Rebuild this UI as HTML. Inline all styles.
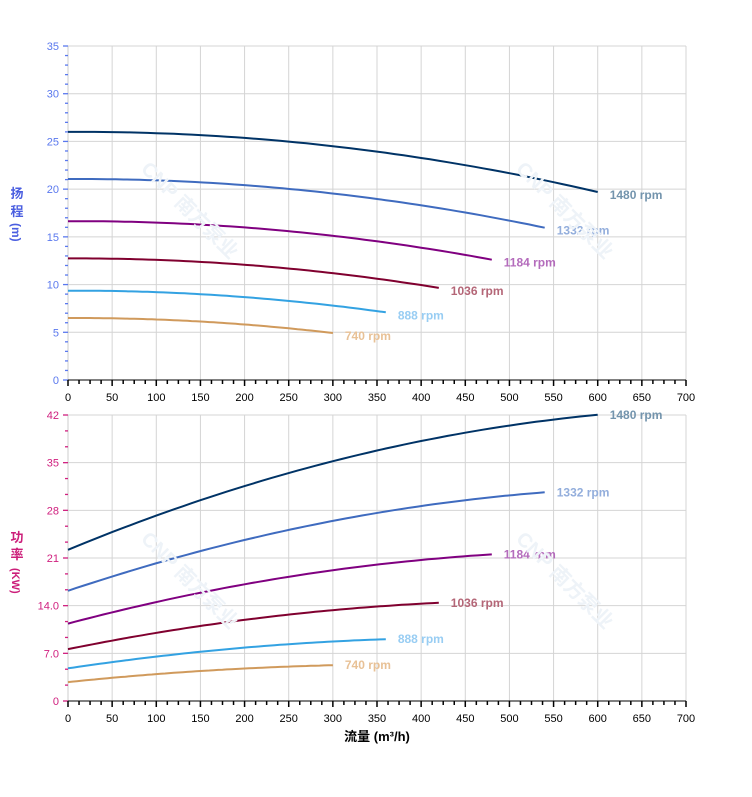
<!DOCTYPE html>
<html><head><meta charset="utf-8"><style>
body{margin:0;background:#fff;}
svg{display:block;font-family:"Liberation Sans","Noto Sans CJK SC",sans-serif;}
</style></head><body>
<svg id="s" width="752" height="797" xmlns="http://www.w3.org/2000/svg"></svg>
<script>
const s=document.getElementById('s');
let h='';
const X0=68,X1=686,xs=(X1-X0)/700;
const X=q=>X0+q*xs;
function panel(top,bot,ymax,ystep,minor,col,fmt){
  const ys=(bot-top)/ymax, Y=v=>bot-v*ys;
  for(let q=50;q<=700;q+=50) h+=`<line x1="${X(q)}" y1="${top}" x2="${X(q)}" y2="${bot}" stroke="#d4d4d4" stroke-width="1"/>`;
  const nmaj=Math.round(ymax/ystep);
  for(let i=1;i<=nmaj;i++){const v=i*ystep;h+=`<line x1="${X0}" y1="${Y(v)}" x2="${X1}" y2="${Y(v)}" stroke="#d4d4d4" stroke-width="1"/>`;}
  h+=`<line x1="${X0}" y1="${top}" x2="${X0}" y2="${bot}" stroke="#ccc"/>`;
  h+=`<line x1="${X0}" y1="${bot}" x2="${X1}" y2="${bot}" stroke="#000" stroke-width="1"/>`;
  for(let j=0;j<=nmaj*minor;j++){
    const maj=j%minor==0; const v=j*ystep/minor;
    h+=`<line x1="${maj?X0-5:X0-3}" y1="${Y(v)}" x2="${X0}" y2="${Y(v)}" stroke="${col}" stroke-width="1.3"/>`;
    if(maj) h+=`<text x="${X0-9}" y="${Y(v)+4}" font-size="11" fill="${col}" text-anchor="end">${fmt(j/minor)}</text>`;
  }
  for(let k=0;k<=56;k++){
    const q=k*12.5, maj=k%4==0;
    h+=`<line x1="${X(q)}" y1="${bot}" x2="${X(q)}" y2="${bot+(maj?6:4)}" stroke="#000" stroke-width="1.5"/>`;
    if(maj) h+=`<text x="${X(q)}" y="${bot+21}" font-size="11" fill="#000" text-anchor="middle">${q}</text>`;
  }
  return Y;
}
const cols=['#003366','#3f6bbf','#800080','#80002f','#33a2e2','#d09a5c'];
const lcols=['#7394ad','#93aedc','#b46cbc','#b46677','#98cdf3','#e8c196'];
const rs=[1,0.9,0.8,0.7,0.6,0.5],names=['1480','1332','1184','1036','888','740'];
const H=q=>26+0.0005*q-1.833e-5*q*q;
const P=q=>22.2+0.0537*q-3.44e-5*q*q;
const Yt=panel(46,380,35,5,5,'#5a78ee',i=>i*5);
const blab=['0','7.0','14.0','21','28','35','42'];
const Yb=panel(415,701,42,7,3,'#d0207f',i=>blab[i]);
function curves(Y,f,pw,labOff){
  rs.forEach((r,i)=>{
    let d='';const qe=600*r;
    for(let k=0;k<=60;k++){const q=qe*k/60;const v=Math.pow(r,pw)*f(q/r);d+=(k?'L':'M')+X(q).toFixed(1)+','+Y(v).toFixed(1);}
    h+=`<path d="${d}" fill="none" stroke="${cols[i]}" stroke-width="2"/>`;
    const ve=Math.pow(r,pw)*f(600);
    h+=`<text x="${X(qe)+12}" y="${Y(ve)+labOff}" font-size="12" font-weight="bold" fill="${lcols[i]}">${names[i]} rpm</text>`;
  });
}
curves(Yt,H,2,7);
curves(Yb,P,3,4);
h+=`<g font-size="13" font-weight="bold" fill="#4a5ee0"><text x="17" y="198" text-anchor="middle">扬</text><text x="17" y="216" text-anchor="middle">程</text><text transform="translate(12,223) rotate(90)" font-size="12">(m)</text></g>`;
h+=`<g font-size="13" font-weight="bold" fill="#cc1f7a"><text x="17" y="542" text-anchor="middle">功</text><text x="17" y="559" text-anchor="middle">率</text><text transform="translate(12,568) rotate(90)" font-size="11">(KW)</text></g>`;
h+=`<text x="377" y="741" font-size="13" font-weight="bold" fill="#000" text-anchor="middle">流量 (m³/h)</text>`;
[[185,215],[560,215],[185,585],[560,585]].forEach(p=>{h+=`<text transform="translate(${p[0]},${p[1]}) rotate(45)" font-size="20" font-weight="bold" fill="#eef3f8" text-anchor="middle">CNP 南方泵业</text>`;});
s.innerHTML=h;
</script>
</body></html>
